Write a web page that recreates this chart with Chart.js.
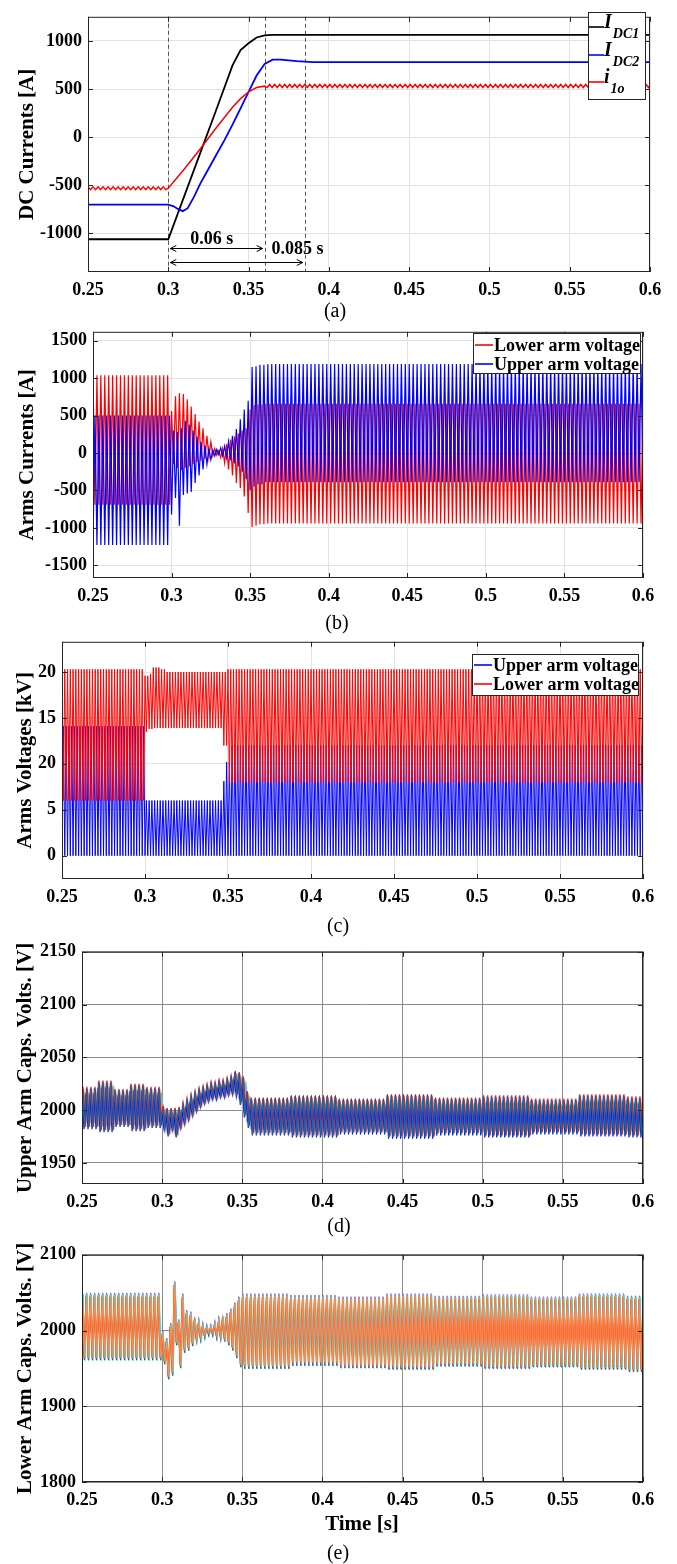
<!DOCTYPE html>
<html>
<head>
<meta charset="utf-8">
<title>MMC transient waveforms</title>
<script src="https://cdn.jsdelivr.net/npm/chart.js@4.4.1/dist/chart.umd.min.js"></script>
<style>
  html, body { margin: 0; padding: 0; background: #fff; }
  body { position: relative; width: 677px; height: 1564px; overflow: hidden;
         font-family: "Liberation Serif", "Times New Roman", serif; }
  canvas { position: absolute; left: 0; }
  .cap { position: absolute; transform: translate(-50%, -50%); font-size: 20px;
         line-height: 1; color: #000; white-space: nowrap; }
  .cap.bold { font-weight: bold; font-size: 21px; }
</style>
</head>
<body>
<canvas id="chartA"></canvas>
<canvas id="chartB"></canvas>
<canvas id="chartC"></canvas>
<canvas id="chartD"></canvas>
<canvas id="chartE"></canvas>
<div class="cap" style="left:335px;top:310px">(a)</div>
<div class="cap" style="left:337px;top:622px">(b)</div>
<div class="cap" style="left:338px;top:925px">(c)</div>
<div class="cap" style="left:339px;top:1225px">(d)</div>
<div class="cap bold" style="left:362px;top:1523px">Time [s]</div>
<div class="cap" style="left:338px;top:1552px">(e)</div>
<script>
const SERIF = '"Liberation Serif", "Times New Roman", serif';

// shared time axis
const timeTicks = [0.25, 0.3, 0.35, 0.4, 0.45, 0.5, 0.55, 0.6];
const timeTickLabels = ['0.25', '0.3', '0.35', '0.4', '0.45', '0.5', '0.55', '0.6'];

// (a) DC currents
const dcTicks = [-1000, -500, 0, 500, 1000];
const dcLegend = [['I', 'DC1'], ['I', 'DC2'], ['i', '1o']];
const idc1Time = [0.25, 0.3, 0.31, 0.32, 0.33, 0.34, 0.345, 0.35, 0.355, 0.36, 0.365, 0.6];
const idc1Amps = [-1060, -1060, -610, -160, 290, 745, 905, 975, 1035, 1058, 1062, 1062];
const idc2Time = [0.25, 0.3, 0.303, 0.306, 0.309, 0.312, 0.316, 0.32, 0.325, 0.33, 0.335, 0.34, 0.345, 0.35, 0.355, 0.36, 0.365, 0.37, 0.38, 0.39, 0.6];
const idc2Amps = [-700, -700, -715, -745, -768, -740, -620, -480, -330, -180, -30, 130, 300, 470, 640, 760, 805, 805, 790, 780, 780];
const i1oRate = 16;                      // ripple cycles per 0.05 s
const i1oRippleTime = [0.25, 0.36];
const i1oRippleHi = [-515, 548];
const i1oRippleLo = [-545, 515];
const i1oRampTime = [0.3, 0.31, 0.32, 0.33, 0.34, 0.345, 0.35, 0.355, 0.36];
const i1oRampAmps = [-530, -330, -120, 100, 310, 400, 470, 515, 530];
const dcMarkers = [0.3, 0.36, 0.385];
const dcSpans = [[0.3, 0.36, -1150], [0.3, 0.385, -1300]];
const dcSpanText = ['0.06 s', '0.085 s'];
const dcSpanTextAt = [[0.327, -1060], [0.3805, -1160]];

// (b) arm currents
const armCurTicks = [-1500, -1000, -500, 0, 500, 1000, 1500];
const armCurLegend = ['Lower arm voltage', 'Upper arm voltage'];
const armCurRate = 20;
const armCurTime = [0.25, 0.3, 0.3025, 0.305, 0.3075, 0.31, 0.3125, 0.315, 0.3175, 0.32, 0.3225, 0.325, 0.3275,
  0.33, 0.3325, 0.335, 0.3375, 0.34, 0.3425, 0.345, 0.3475, 0.35, 0.3525, 0.355, 0.36];
const lowerCurHi = [1040, 560, 760, 800, 790, 720, 620, 520, 420, 330, 230, 150, 60,
  30, 60, 120, 180, 220, 260, 300, 330, 580, 640, 650, 660];
const lowerCurLo = [-690, -150, -200, -230, -200, -180, -150, -120, -100, -80, -60, -40, -30,
  -60, -130, -220, -300, -400, -470, -580, -800, -990, -970, -950, -940];
const upperCurHi = [500, 300, 280, 330, 430, 380, 300, 220, 150, 100, 60, 40, 50,
  70, 90, 150, 230, 320, 450, 580, 700, 1150, 1160, 1180, 1190];
const upperCurLo = [-1230, -820, -600, -970, -560, -540, -520, -400, -300, -220, -150, -90, -40,
  -20, -40, -60, -100, -140, -180, -250, -350, -500, -450, -420, -390];

// (c) arm voltages (kV)
const armVoltTicks = [0, 5, 10, 15, 20];
const armVoltTickLabels = ['0', '5', '20', '15', '20'];
const armVoltLegend = ['Upper arm voltage', 'Lower arm voltage'];
const armVoltRate = 30;
const upperVoltTime = [0.25, 0.3, 0.347, 0.349, 0.351];
const upperVoltHi = [14.1, 6.0, 8.1, 10.2, 12.0];
const upperVoltLo = [0, 0, 0, 0, 0];
const lowerVoltTime = [0.25, 0.3, 0.302, 0.305, 0.309, 0.312, 0.347, 0.35];
const lowerVoltHi = [20.3, 19.6, 19.8, 20.5, 20.3, 20.0, 20.0, 20.3];
const lowerVoltLo = [6.0, 13.5, 13.8, 13.9, 13.9, 13.9, 12.0, 8.0];

// (d) upper arm capacitor voltages
const upperCapTicks = [1950, 2000, 2050, 2100, 2150];
const capRate = 20;
const upperCapTime = [0.25, 0.26, 0.27, 0.28, 0.29, 0.3, 0.3025, 0.305, 0.3075, 0.31, 0.3125, 0.315, 0.3175, 0.32, 0.3225, 0.325,
  0.3275, 0.33, 0.335, 0.34, 0.3425, 0.345, 0.3475, 0.35, 0.3525, 0.355, 0.38, 0.41, 0.44, 0.47, 0.5, 0.53, 0.56, 0.59];
const upperCapHi = [2016, 2022, 2014, 2019, 2016, 1998, 1996, 1996, 1996, 1997, 2000, 2004, 2008, 2011, 2014, 2016,
  2018, 2020, 2022, 2024, 2026, 2031, 2030, 2026, 2012, 2006, 2008, 2005, 2009, 2006, 2008, 2005, 2009, 2007];
const upperCapLo = [1987, 1984, 1989, 1985, 1988, 1986, 1980, 1986, 1979, 1988, 1992, 1996, 2000, 2004, 2008, 2011,
  2013, 2015, 2017, 2019, 2020, 2018, 2010, 1998, 1988, 1981, 1979, 1982, 1978, 1981, 1979, 1982, 1980, 1979];
const upperCapColors = ['#ff00ff', '#00e5ff', '#b0b0b0', '#77ac30', '#edb120', '#4dbeee', '#d95319', '#ff0000', '#0000ff', '#0072bd'];
const upperCapHiAdd = [2, -2, 0, 3, -3, 1, 4, 6, -1, 5];
const upperCapLoAdd = [-2, 2, 1, -1, 3, 0, -3, -2, -5, -4];
const upperCapLag = [0.15, 0.85, 0.55, 0.35, 0.7, 0.9, 0.4, 0.25, 0.0, 0.1];

// (e) lower arm capacitor voltages
const lowerCapTicks = [1800, 1900, 2000, 2100];
const lowerCapTime = [0.25, 0.3, 0.3025, 0.305, 0.3075, 0.31, 0.3125, 0.315, 0.3175, 0.32, 0.3225, 0.325, 0.3275,
  0.33, 0.3325, 0.335, 0.3375, 0.34, 0.3425, 0.345, 0.3475, 0.35, 0.38, 0.41, 0.44, 0.47, 0.5, 0.53, 0.56, 0.59];
const lowerCapHi = [2045, 1995, 1985, 2005, 2060, 2010, 2044, 2022, 2020, 2012, 2008, 2004, 2002,
  2002, 2006, 2010, 2014, 2018, 2024, 2032, 2040, 2044, 2042, 2040, 2044, 2041, 2043, 2040, 2044, 2041];
const lowerCapLo = [1965, 1960, 1940, 1945, 1985, 1955, 1975, 1978, 1984, 1990, 1992, 1995, 1998,
  1998, 1995, 1993, 1990, 1985, 1978, 1968, 1956, 1954, 1958, 1955, 1953, 1957, 1954, 1956, 1953, 1950];
const lowerCapColors = ['#00ff00', '#ff00ff', '#00ffff', '#7e2f8e', '#4dbeee', '#edb120', '#ffa060', '#ff7a3c', '#ff3a1a', '#ff8a4a'];
const lowerCapHiAdd = [4, 5, 3, 2, 4, 2, 1, 0, 0, 1];
const lowerCapLoAdd = [-5, -4, -3, -4, -2, -1, 0, 0, -1, 0];
const lowerCapLag = [0.2, 0.12, 0.28, 0.08, 0.18, 0.05, 0.1, 0.02, 0, 0.06];

// panel boxes in page pixels
const boxA = { top: 0, height: 305, left: 88, right: 650, plotTop: 8, plotBottom: 272 };
const boxB = { top: 315, height: 296, left: 93, right: 643, plotTop: 327, plotBottom: 578 };
const boxC = { top: 625, height: 287, left: 62, right: 643, plotTop: 636, plotBottom: 879 };
const boxD = { top: 935, height: 282, left: 82, right: 643, plotTop: 947, plotBottom: 1184 };
const boxE = { top: 1238, height: 277, left: 82, right: 643, plotTop: 1246, plotBottom: 1482 };

// alternate between the read peak and trough levels, one value per half cycle
function wave(t0, t1, rate, knT, knHi, knLo, lag, hiAdd, loAdd, startLow) {
  const half = 0.05 / rate / 2;
  const pts = [];
  for (let k = -2; ; k++) {
    const t = t0 + (k + 2 * lag) * half;
    if (t > t1 + 2 * half) break;
    let i = 0;
    while (i + 1 < knT.length && knT[i + 1] <= t + 1e-9) i++;
    const up = ((k + (startLow ? 1 : 0)) % 2 + 2) % 2 === 0;
    pts.push({ x: t, y: up ? knHi[i] + hiAdd : knLo[i] + loAdd });
  }
  return pts;
}

function pairs(ts, vs) {
  return ts.map((t, i) => ({ x: t, y: vs[i] }));
}

function framePlugin() {
  return {
    id: 'frame',
    afterDraw(chart) {
      const { ctx, chartArea: a, scales } = chart;
      ctx.save();
      ctx.strokeStyle = '#262626';
      ctx.lineWidth = 1;
      ctx.strokeRect(a.left + 0.5, a.top + 0.5, a.right - a.left - 1, a.bottom - a.top - 1);
      ctx.beginPath();
      scales.x.ticks.forEach(tk => {
        const px = Math.round(scales.x.getPixelForValue(tk.value)) + 0.5;
        ctx.moveTo(px, a.bottom); ctx.lineTo(px, a.bottom - 5);
        ctx.moveTo(px, a.top); ctx.lineTo(px, a.top + 5);
      });
      scales.y.ticks.forEach(tk => {
        const py = Math.round(scales.y.getPixelForValue(tk.value)) + 0.5;
        ctx.moveTo(a.left, py); ctx.lineTo(a.left + 5, py);
        ctx.moveTo(a.right, py); ctx.lineTo(a.right - 5, py);
      });
      ctx.stroke();
      ctx.restore();
    }
  };
}

function legendPlugin(box, spec, entries) {
  return {
    id: 'boxLegend',
    afterDraw(chart) {
      const ctx = chart.ctx;
      const off = box.top;
      ctx.save();
      ctx.fillStyle = '#fff';
      ctx.fillRect(spec.x, spec.y - off, spec.w, spec.h);
      ctx.strokeStyle = '#262626';
      ctx.lineWidth = 1;
      ctx.strokeRect(spec.x + 0.5, spec.y - off + 0.5, spec.w, spec.h);
      entries.forEach((e, i) => {
        const y = spec.rows[i] - off;
        ctx.strokeStyle = e.color;
        ctx.lineWidth = 1.6;
        ctx.beginPath();
        ctx.moveTo(spec.lineX0, y);
        ctx.lineTo(spec.lineX1, y);
        ctx.stroke();
        ctx.fillStyle = '#000';
        if (e.sub) {
          ctx.textBaseline = 'alphabetic';
          ctx.font = 'italic bold 20px ' + SERIF;
          ctx.fillText(e.main, spec.textX, y + 1);
          const w = ctx.measureText(e.main).width;
          ctx.font = 'italic bold 14px ' + SERIF;
          ctx.fillText(e.sub, spec.textX + w + 1, y + 11);
        } else {
          ctx.textBaseline = 'middle';
          ctx.font = 'bold 18px ' + SERIF;
          ctx.fillText(e.main, spec.textX, y + 1);
        }
      });
      ctx.restore();
    }
  };
}

function dcMarksPlugin() {
  return {
    id: 'dcMarks',
    beforeDatasetsDraw(chart) {
      const { ctx, chartArea: a, scales } = chart;
      ctx.save();
      ctx.strokeStyle = '#555';
      ctx.lineWidth = 1;
      ctx.setLineDash([4, 3]);
      dcMarkers.forEach(t => {
        const px = Math.round(scales.x.getPixelForValue(t)) + 0.5;
        ctx.beginPath(); ctx.moveTo(px, a.top); ctx.lineTo(px, a.bottom); ctx.stroke();
      });
      ctx.restore();
    },
    afterDatasetsDraw(chart) {
      const { ctx, scales } = chart;
      ctx.save();
      ctx.strokeStyle = '#000';
      ctx.lineWidth = 1;
      dcSpans.forEach(s => {
        const x0 = scales.x.getPixelForValue(s[0]) + 2;
        const x1 = scales.x.getPixelForValue(s[1]) - 2;
        const y = Math.round(scales.y.getPixelForValue(s[2])) + 0.5;
        ctx.beginPath();
        ctx.moveTo(x0, y); ctx.lineTo(x1, y);
        ctx.moveTo(x0 + 6, y - 3); ctx.lineTo(x0, y); ctx.lineTo(x0 + 6, y + 3);
        ctx.moveTo(x1 - 6, y - 3); ctx.lineTo(x1, y); ctx.lineTo(x1 - 6, y + 3);
        ctx.stroke();
      });
      ctx.fillStyle = '#000';
      ctx.font = 'bold 18px ' + SERIF;
      ctx.textAlign = 'center';
      ctx.textBaseline = 'middle';
      dcSpanText.forEach((txt, i) => {
        ctx.fillText(txt, scales.x.getPixelForValue(dcSpanTextAt[i][0]), scales.y.getPixelForValue(dcSpanTextAt[i][1]));
      });
      ctx.restore();
    }
  };
}

function makeChart(id, box, cfg) {
  const cv = document.getElementById(id);
  cv.width = 677;
  cv.height = box.height;
  cv.style.top = box.top + 'px';
  const tickFont = { family: SERIF, size: 18, weight: 'bold' };
  const plugins = [framePlugin()].concat(cfg.extra || []);
  // later series are drawn on top, as in the original plot
  cfg.datasets.forEach((ds, i) => { ds.order = -i; });
  return new Chart(cv, {
    type: 'line',
    data: { datasets: cfg.datasets },
    options: {
      responsive: false,
      animation: false,
      events: [],
      normalized: true,
      layout: { padding: { top: box.plotTop - box.top, right: 677 - box.right, bottom: 0, left: 0 } },
      elements: { point: { radius: 0 }, line: { tension: 0 } },
      plugins: { legend: { display: false }, tooltip: { enabled: false } },
      scales: {
        x: {
          type: 'linear', min: 0.25, max: 0.6,
          afterBuildTicks: s => { s.ticks = timeTicks.map(v => ({ value: v })); },
          afterFit: s => { s.height = box.top + box.height - box.plotBottom; },
          ticks: {
            autoSkip: false, maxRotation: 0, color: '#000', font: tickFont, padding: 8,
            callback: v => timeTickLabels[timeTicks.indexOf(v)]
          },
          grid: { color: cfg.gridColor, drawTicks: false },
          border: { display: false }
        },
        y: {
          type: 'linear', min: cfg.yMin, max: cfg.yMax,
          afterBuildTicks: s => { s.ticks = cfg.yTicks.map(v => ({ value: v })); },
          afterFit: s => { s.width = box.left; },
          ticks: {
            color: '#000', font: tickFont, padding: 6,
            callback: (v, i) => cfg.yLabels[i]
          },
          title: {
            display: true, text: cfg.yTitle, color: '#000',
            font: { family: SERIF, size: 21, weight: 'bold' },
            padding: { top: cfg.titlePad, bottom: 0 }
          },
          grid: { color: cfg.gridColor, drawTicks: false },
          border: { display: false }
        }
      }
    },
    plugins: plugins
  });
}

// ---------- (a) ----------
const i1oPoints = wave(0.25, 0.3, i1oRate, i1oRippleTime, i1oRippleHi, i1oRippleLo, 0, 0, 0, false)
  .filter(p => p.x < 0.3)
  .concat(pairs(i1oRampTime, i1oRampAmps))
  .concat(wave(0.36, 0.6, i1oRate, i1oRippleTime, i1oRippleHi, i1oRippleLo, 0, 0, 0, false).filter(p => p.x > 0.36));
const dcColors = ['#000000', '#0000ff', '#ff0000'];
makeChart('chartA', boxA, {
  yMin: -1400, yMax: 1250, yTicks: dcTicks, yLabels: dcTicks.map(String),
  yTitle: 'DC Currents [A]', titlePad: 15, gridColor: '#e2e2e2',
  datasets: [
    { label: 'IDC1', data: pairs(idc1Time, idc1Amps), borderColor: dcColors[0], borderWidth: 1.8 },
    { label: 'IDC2', data: pairs(idc2Time, idc2Amps), borderColor: dcColors[1], borderWidth: 1.8 },
    { label: 'i1o', data: i1oPoints, borderColor: dcColors[2], borderWidth: 1.5 }
  ],
  extra: [
    dcMarksPlugin(),
    legendPlugin(boxA, { x: 588, y: 12, w: 57, h: 87, rows: [27, 55, 82], lineX0: 589, lineX1: 604, textX: 604 },
      dcLegend.map((l, i) => ({ main: l[0], sub: l[1], color: dcColors[i] })))
  ]
});

// ---------- (b) ----------
makeChart('chartB', boxB, {
  yMin: -1670, yMax: 1620, yTicks: armCurTicks, yLabels: armCurTicks.map(String),
  yTitle: 'Arms Currents [A]', titlePad: 15, gridColor: '#e2e2e2',
  datasets: [
    { label: armCurLegend[0], data: wave(0.25, 0.6, armCurRate, armCurTime, lowerCurHi, lowerCurLo, 0, 0, 0, false), borderColor: '#ff0000', borderWidth: 1.2 },
    { label: armCurLegend[1], data: wave(0.25, 0.6, armCurRate, armCurTime, upperCurHi, upperCurLo, 0, 0, 0, true), borderColor: '#0000ff', borderWidth: 1.2 }
  ],
  extra: [
    legendPlugin(boxB, { x: 473, y: 333, w: 167, h: 40, rows: [345, 364], lineX0: 475, lineX1: 493, textX: 494 },
      [{ main: armCurLegend[0], color: '#ff0000' }, { main: armCurLegend[1], color: '#0000ff' }])
  ]
});

// ---------- (c) ----------
makeChart('chartC', boxC, {
  yMin: -2.55, yMax: 23.3, yTicks: armVoltTicks, yLabels: armVoltTickLabels,
  yTitle: 'Arms Voltages [kV]', titlePad: 13, gridColor: '#e2e2e2',
  datasets: [
    { label: armVoltLegend[0], data: wave(0.25, 0.6, armVoltRate, upperVoltTime, upperVoltHi, upperVoltLo, 0, 0, 0, true), borderColor: '#0000ff', borderWidth: 1 },
    { label: armVoltLegend[1], data: wave(0.25, 0.6, armVoltRate, lowerVoltTime, lowerVoltHi, lowerVoltLo, 0, 0, 0, false), borderColor: '#ff0000', borderWidth: 1 }
  ],
  extra: [
    legendPlugin(boxC, { x: 472, y: 654, w: 166, h: 41, rows: [665, 684], lineX0: 474, lineX1: 492, textX: 493 },
      [{ main: armVoltLegend[0], color: '#0000ff' }, { main: armVoltLegend[1], color: '#ff0000' }])
  ]
});

// ---------- (d) ----------
makeChart('chartD', boxD, {
  yMin: 1930, yMax: 2150, yTicks: upperCapTicks, yLabels: upperCapTicks.map(String),
  yTitle: 'Upper Arm Caps. Volts. [V]', titlePad: 13, gridColor: '#8c8c8c',
  datasets: upperCapColors.map((c, i) => ({
    label: 'SM' + (i + 1),
    data: wave(0.25, 0.6, capRate, upperCapTime, upperCapHi, upperCapLo, upperCapLag[i], upperCapHiAdd[i], upperCapLoAdd[i], false),
    borderColor: c, borderWidth: 1.1
  }))
});

// ---------- (e) ----------
makeChart('chartE', boxE, {
  yMin: 1800, yMax: 2100, yTicks: lowerCapTicks, yLabels: lowerCapTicks.map(String),
  yTitle: 'Lower Arm Caps. Volts. [V]', titlePad: 13, gridColor: '#8c8c8c',
  datasets: lowerCapColors.map((c, i) => ({
    label: 'SM' + (i + 1),
    data: wave(0.25, 0.6, capRate, lowerCapTime, lowerCapHi, lowerCapLo, lowerCapLag[i], lowerCapHiAdd[i], lowerCapLoAdd[i], false),
    borderColor: c, borderWidth: 1.1
  }))
});
</script>
</body>
</html>
